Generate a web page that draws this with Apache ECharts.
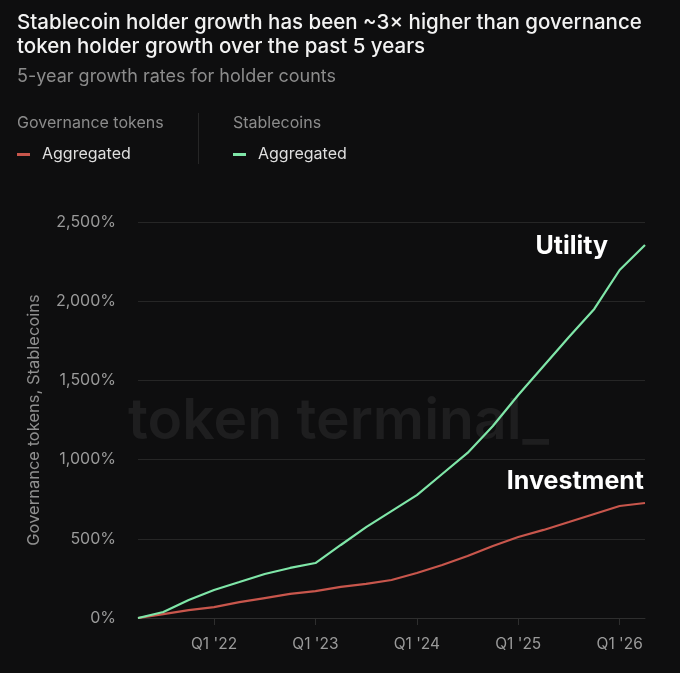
<!DOCTYPE html>
<html>
<head>
<meta charset="utf-8">
<script src="https://cdn.jsdelivr.net/npm/echarts@6/dist/echarts.min.js"></script>
<style>
html,body{margin:0;padding:0;background:#0e0e0f;}
#chart{width:680px;height:673px;}
</style>
</head>
<body>
<div id="chart"></div>
<script>
// Quarterly points from Q2 '21 to Q2 '26
const quarters = ["Q2 '21","Q3 '21","Q4 '21","Q1 '22","Q2 '22","Q3 '22","Q4 '22","Q1 '23","Q2 '23","Q3 '23","Q4 '23","Q1 '24","Q2 '24","Q3 '24","Q4 '24","Q1 '25","Q2 '25","Q3 '25","Q4 '25","Q1 '26","Q2 '26"];
const governanceAggregated = [0,25,50,69,100,126,152,170,196,215,240,284,335,391,455,511,556,606,657,707,726];
const stablecoinsAggregated = [0,38,114,177,227,278,316,347,461,574,675,776,909,1042,1212,1408,1591,1774,1951,2197,2355];
const yTicks = [0,500,1000,1500,2000,2500];

const FONT = 'Inter, "Noto Sans", sans-serif';
const RED = '#c8564c';
const GREEN = '#7fe6a8';

const chart = echarts.init(document.getElementById('chart'), null, {renderer:'canvas'});
chart.setOption({
  backgroundColor: '#0e0e0f',
  animation: false,
  textStyle: {fontFamily: FONT},
  graphic: [
    {type:'text', left:17, top:11, style:{text:'Stablecoin holder growth has been ~3× higher than governance\ntoken holder growth over the past 5 years', fill:'#f2f2f2', font:'500 20.5px ' + FONT, lineHeight:24}},
    {type:'text', left:17, top:68, style:{text:'5-year growth rates for holder counts', fill:'#8c8c8c', font:'18px ' + FONT}},
    {type:'text', left:17, top:115, style:{text:'Governance tokens', fill:'#8c8c8c', font:'16px ' + FONT}},
    {type:'rect', left:17, top:153, shape:{width:13, height:3}, style:{fill:RED}},
    {type:'text', left:42, top:146, style:{text:'Aggregated', fill:'#dedede', font:'16px ' + FONT}},
    {type:'rect', left:198, top:113, shape:{width:1, height:51}, style:{fill:'#262626'}},
    {type:'text', left:233, top:115, style:{text:'Stablecoins', fill:'#8c8c8c', font:'16px ' + FONT}},
    {type:'rect', left:233, top:153, shape:{width:13, height:3}, style:{fill:GREEN}},
    {type:'text', left:258, top:146, style:{text:'Aggregated', fill:'#dedede', font:'16px ' + FONT}},
    {type:'text', left:128, top:393, z:-1, style:{text:'token terminal_', fill:'#1e1e1f', font:'600 57px ' + FONT}},
    {type:'text', right:72, top:234, style:{text:'Utility', fill:'#ffffff', font:'bold 25px ' + FONT}},
    {type:'text', right:36, top:469, style:{text:'Investment', fill:'#ffffff', font:'bold 25px ' + FONT}}
  ],
  grid: {left:138, right:35, top:222, bottom:55, containLabel:false},
  xAxis: {
    type:'category',
    data: quarters,
    boundaryGap:false,
    axisLine:{show:true, lineStyle:{color:'#2e2e2e', width:1}},
    axisTick:{show:true, length:7, lineStyle:{color:'#2e2e2e'}, interval:(i,v)=>v.indexOf('Q1')===0},
    axisLabel:{color:'#9a9a9a', fontSize:15.5, margin:18, fontFamily:FONT, interval:(i,v)=>v.indexOf('Q1')===0},
    splitLine:{show:false}
  },
  yAxis: {
    type:'value',
    min:0, max:2500, interval:500,
    name:'Governance tokens, Stablecoins',
    nameLocation:'middle',
    nameGap:95,
    nameTextStyle:{color:'#8f8f8f', fontSize:16.5, fontFamily:FONT},
    axisLine:{show:false},
    axisTick:{show:false},
    axisLabel:{color:'#9a9a9a', fontSize:16, margin:22, fontFamily:FONT, formatter:v=>v.toLocaleString('en-US')+'%'},
    splitLine:{lineStyle:{color:'#262626', width:1}}
  },
  series: [
    {name:'Governance tokens', type:'line', data:governanceAggregated, showSymbol:false, lineStyle:{color:RED, width:2.2}, itemStyle:{color:RED}},
    {name:'Stablecoins', type:'line', data:stablecoinsAggregated, showSymbol:false, lineStyle:{color:GREEN, width:2.2}, itemStyle:{color:GREEN}}
  ]
});
</script>
</body>
</html>
